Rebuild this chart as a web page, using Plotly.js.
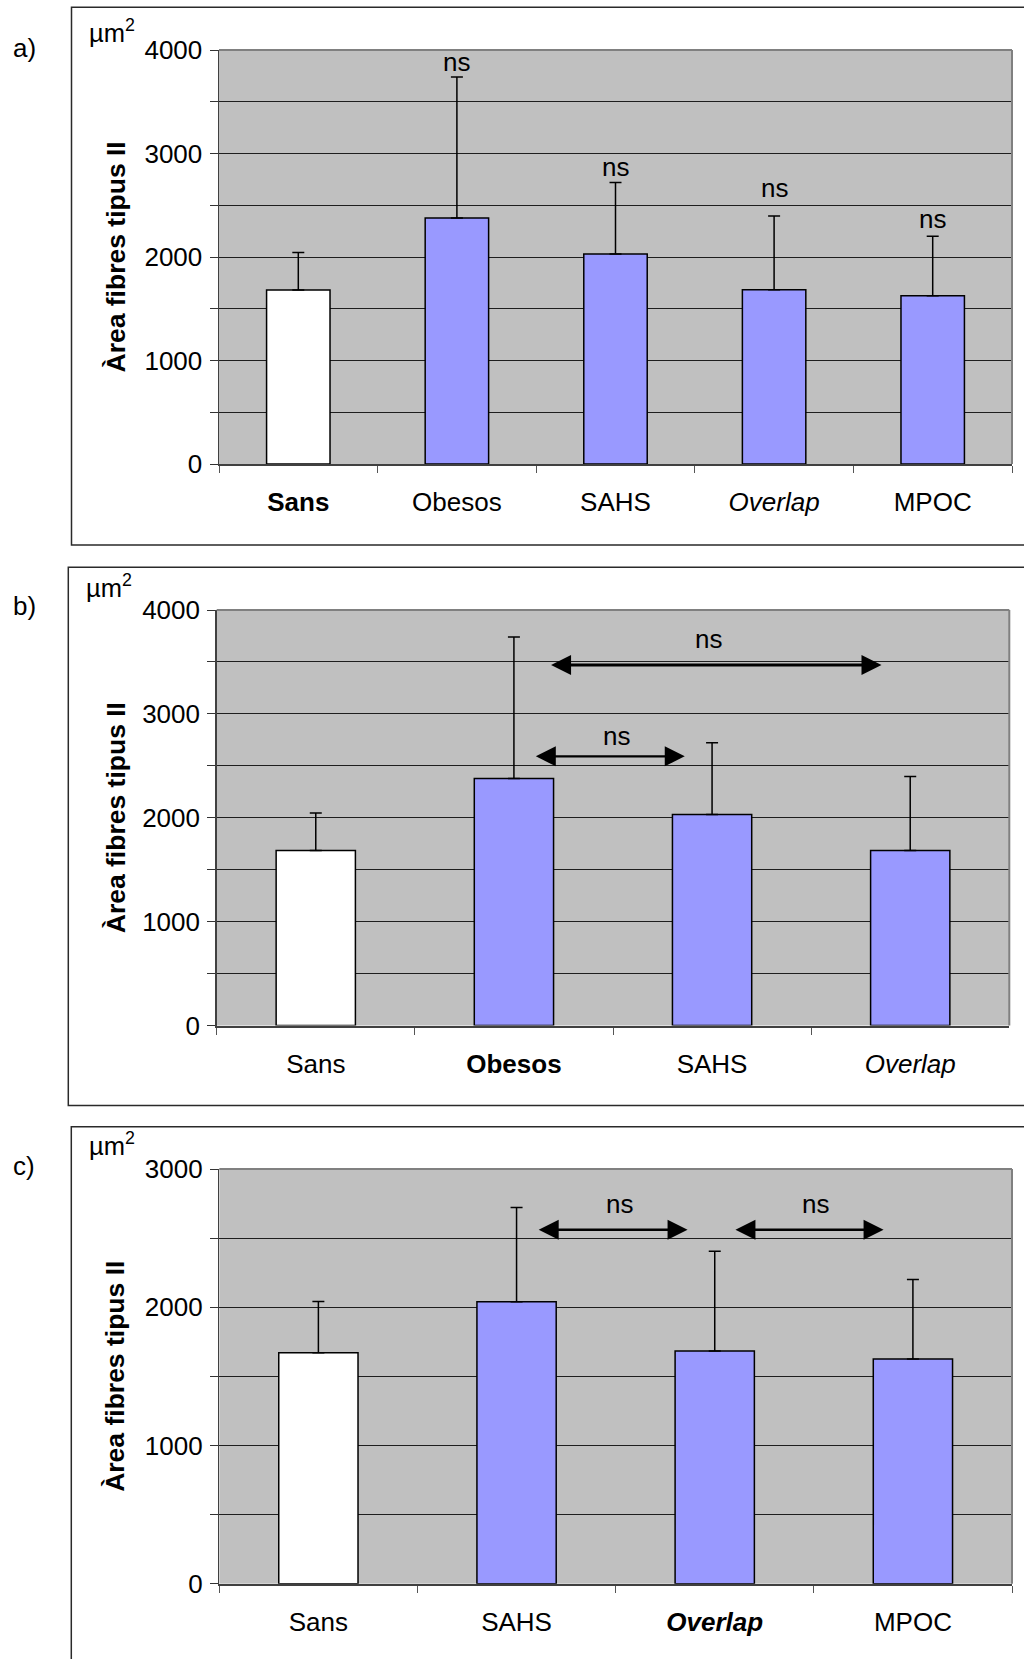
<!DOCTYPE html>
<html><head><meta charset="utf-8">
<script src="https://cdn.plot.ly/plotly-3.0.1.min.js"></script>
<style>html,body{margin:0;padding:0;background:#fff}#chart{width:1024px;height:1659px}</style>
</head><body><div id="chart"></div>
<script>
// ---- data ----
const categoriesA = ['Sans', 'Obesos', 'SAHS', 'Overlap', 'MPOC'];
const meansA = [1680, 2376, 2030, 1683, 1625];
const sdA = [364, 1364, 690, 714, 576];

const categoriesB = ['Sans', 'Obesos', 'SAHS', 'Overlap'];
const meansB = [1684, 2377, 2031, 1684];
const sdB = [362, 1362, 692, 712];

const categoriesC = ['Sans', 'SAHS', 'Overlap', 'MPOC'];
const meansC = [1670, 2040, 1683, 1625];
const sdC = [372, 681, 722, 576];

const yTicksAB = [0, 1000, 2000, 3000, 4000];
const yTicksC = [0, 1000, 2000, 3000];
const yTitle = 'Àrea fibres tipus II';
const unitLabel = 'µm<sup>2</sup>';
const panelLabels = ['a)', 'b)', 'c)'];
const nsLabel = 'ns';

// ---- styling / layout ----
const FONT = 'Liberation Sans, Arial, Helvetica, sans-serif';
const FS = 26;
const W = 1024, H = 1659;
const px = p => p / W;
const py = p => 1 - p / H;
const BLUE = '#9999FF';

function fmtLabels(cats, boldName) {
  return cats.map(c => {
    let t = c === 'Overlap' ? '<i>' + c + '</i>' : c;
    if (c === boldName) t = '<b>' + t + '</b>';
    return t;
  });
}

function xaxisCfg(cats, ticktext, l, r, anchor) {
  return {
    domain: [px(l), px(r)], anchor: anchor, type: 'category',
    categoryorder: 'array', categoryarray: cats,
    tickmode: 'array', tickvals: cats, ticktext: ticktext,
    tickson: 'boundaries', ticks: 'outside', ticklen: 7, tickwidth: 1, tickcolor: '#555',
    showline: true, linecolor: '#404040', linewidth: 2,
    showgrid: false, zeroline: false,
    tickfont: {family: FONT, size: FS, color: '#000'},
    ticklabelstandoff: 14,
    range: [-0.5, cats.length - 0.5], fixedrange: true
  };
}

function yaxisCfg(ticks, t, b, anchor) {
  return {
    domain: [py(b), py(t)], anchor: anchor,
    range: [0, ticks[ticks.length - 1]],
    tickmode: 'array', tickvals: ticks, ticktext: ticks.map(String),
    ticks: 'outside', ticklen: 8, tickwidth: 1, tickcolor: '#333',
    showgrid: true, gridcolor: '#1e1e1e', gridwidth: 1,
    zeroline: false, showline: true, linecolor: '#404040', linewidth: 1.5,
    tickfont: {family: FONT, size: FS, color: '#000'},
    ticklabelstandoff: 2,
    minor: {dtick: 500, tick0: 0, ticks: 'outside', ticklen: 8, tickwidth: 1, tickcolor: '#333',
            showgrid: true, gridcolor: '#1e1e1e', gridwidth: 1},
    fixedrange: true
  };
}

function barTrace(cats, means, sd, xa, ya) {
  return {
    type: 'bar', x: cats, y: means, xaxis: xa, yaxis: ya, width: 0.4,
    marker: {color: cats.map(c => c === 'Sans' ? '#FFFFFF' : BLUE), line: {color: '#000', width: 1.5}},
    error_y: {type: 'data', array: sd, arrayminus: sd.map(() => 0), symmetric: false,
              color: '#000', thickness: 1.5, width: 6},
    hoverinfo: 'skip', showlegend: false
  };
}

const data = [
  barTrace(categoriesA, meansA, sdA, 'x', 'y'),
  barTrace(categoriesB, meansB, sdB, 'x2', 'y2'),
  barTrace(categoriesC, meansC, sdC, 'x3', 'y3')
];

const annotations = [];
const txtFont = {family: FONT, size: FS, color: '#000'};

// panel labels, units, y titles
const panelBoxes = [
  {label: [11, 48], unit: [87, 31], plotTop: 50, plotBot: 464},
  {label: [11, 606], unit: [84, 586], plotTop: 610, plotBot: 1025.5},
  {label: [11, 1166], unit: [87, 1144], plotTop: 1169, plotBot: 1583.7}
];
panelBoxes.forEach((p, i) => {
  annotations.push({xref: 'paper', yref: 'paper', x: px(p.label[0]), y: py(p.label[1]),
    xanchor: 'left', yanchor: 'middle', text: panelLabels[i], showarrow: false, font: txtFont});
  annotations.push({xref: 'paper', yref: 'paper', x: px(p.unit[0]), y: py(p.unit[1]),
    xanchor: 'left', yanchor: 'middle', text: unitLabel, showarrow: false, font: {family: FONT, size: 25.5, color: '#000'}});
  annotations.push({xref: 'paper', yref: 'paper', x: px(115.5), y: py((p.plotTop + p.plotBot) / 2),
    xanchor: 'center', yanchor: 'middle', textangle: -90, text: '<b>' + yTitle + '</b>',
    showarrow: false, font: {family: FONT, size: 26.5, color: '#000'}});
});

// panel a: ns above each group vs Sans
const nsShiftA = [0, 15, 15, 28, 17];
categoriesA.forEach((c, i) => {
  if (i === 0) return;
  annotations.push({xref: 'x', yref: 'y', x: c, y: meansA[i] + sdA[i], yshift: nsShiftA[i],
    xanchor: 'center', yanchor: 'middle', text: nsLabel, showarrow: false, font: txtFont});
});

// comparison arrows (x in category-index units)
function compArrow(xr, yr, x0, x1, yv, w, nsx, shift) {
  annotations.push({xref: xr, yref: yr, axref: xr, ayref: yr, x: x1, y: yv, ax: x0, ay: yv,
    text: '', showarrow: true, arrowside: 'end+start', arrowhead: 2, startarrowhead: 2,
    arrowwidth: w, arrowsize: 4 / w, startarrowsize: 4 / w, arrowcolor: '#000',
    standoff: 0, startstandoff: 0});
  annotations.push({xref: xr, yref: yr, x: nsx, y: yv, yshift: shift, xanchor: 'center', yanchor: 'middle',
    text: nsLabel, showarrow: false, font: txtFont});
}
compArrow('x2', 'y2', 1.18, 2.855, 3470, 3, 1.98, 26);
compArrow('x2', 'y2', 1.103, 1.862, 2591, 2.2, 1.52, 20);
compArrow('x3', 'y3', 1.104, 1.863, 2560, 2.5, 1.52, 26);
compArrow('x3', 'y3', 2.097, 2.852, 2560, 2.5, 2.51, 26);

// shapes: outer frames and gray top/right plot borders
const shapes = [];
[[71.5, 7.3, 545], [68.3, 567.3, 1105.5], [71.3, 1126.7, 1672]].forEach(f => {
  shapes.push({type: 'rect', xref: 'paper', yref: 'paper', x0: px(f[0]), x1: px(1032), y0: py(f[2]), y1: py(f[1]),
    line: {color: '#2a2a2a', width: 1.5}, fillcolor: 'rgba(0,0,0,0)', layer: 'below'});
});
[['x', 'y'], ['x2', 'y2'], ['x3', 'y3']].forEach(([xa, ya]) => {
  shapes.push({type: 'line', xref: xa + ' domain', yref: ya + ' domain', x0: 0, x1: 1, y0: 1, y1: 1,
    line: {color: '#808080', width: 2}, layer: 'above'});
  shapes.push({type: 'line', xref: xa + ' domain', yref: ya + ' domain', x0: 1, x1: 1, y0: 0, y1: 1,
    line: {color: '#808080', width: 2}, layer: 'above'});
});

const layout = {
  width: W, height: H, margin: {l: 0, r: 0, t: 0, b: 0},
  paper_bgcolor: '#FFFFFF', plot_bgcolor: '#C0C0C0', showlegend: false,
  font: {family: FONT, size: FS, color: '#000'},
  xaxis: xaxisCfg(categoriesA, fmtLabels(categoriesA, 'Sans'), 219, 1012, 'y'),
  yaxis: yaxisCfg(yTicksAB, 50, 464, 'x'),
  xaxis2: xaxisCfg(categoriesB, fmtLabels(categoriesB, 'Obesos'), 216.7, 1009.3, 'y2'),
  yaxis2: yaxisCfg(yTicksAB, 610, 1025.5, 'x2'),
  xaxis3: xaxisCfg(categoriesC, fmtLabels(categoriesC, 'Overlap'), 219.3, 1012, 'y3'),
  yaxis3: yaxisCfg(yTicksC, 1169, 1583.7, 'x3'),
  annotations: annotations, shapes: shapes
};

Plotly.newPlot('chart', data, layout, {staticPlot: true, displayModeBar: false});
</script></body></html>
